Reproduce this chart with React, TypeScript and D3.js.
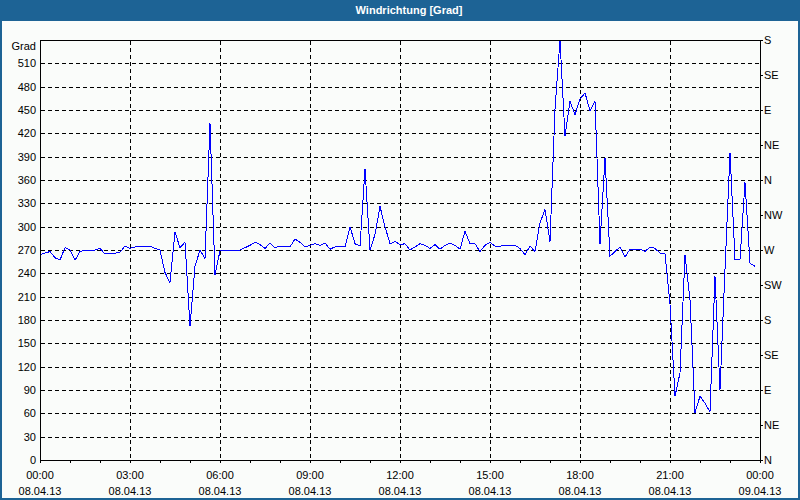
import { useEffect, useRef } from 'react'
import * as d3 from 'd3'

// 10-minute samples, 08.04.13 00:00 .. 23:50
const startTime = new Date(2013, 3, 8, 0, 0)
const endTime = new Date(2013, 3, 9, 0, 0)
const stepMinutes = 10

const windDirection = [
  264, 266, 268, 260, 257, 273, 270, 257, 268, 270, 270, 270,
  272, 265, 266, 266, 267, 275, 272, 274, 274, 274, 275, 272,
  270, 241, 228, 293, 273, 280, 172, 249, 270, 259, 433, 238,
  269, 269, 270, 269, 270, 273, 276, 280, 277, 272, 279, 273,
  275, 275, 274, 284, 280, 274, 276, 278, 276, 279, 271, 274,
  274, 274, 300, 278, 275, 374, 270, 290, 326, 300, 278, 281,
  277, 278, 270, 274, 278, 276, 272, 277, 271, 276, 279, 276,
  271, 294, 278, 278, 268, 276, 280, 275, 275, 276, 276, 276,
  272, 264, 275, 268, 305, 322, 281, 451, 540, 416, 461, 444,
  464, 472, 449, 461, 278, 388, 262, 268, 274, 261, 271, 271,
  271, 268, 274, 272, 266, 265, 200, 82, 112, 264, 206, 61,
  82, 73, 62, 236, 90, 245, 395, 258, 258, 357, 253, 249
]

const gradTicks = [0, 30, 60, 90, 120, 150, 180, 210, 240, 270, 300, 330, 360, 390, 420, 450, 480, 510]
const compassTicks = [0, 45, 90, 135, 180, 225, 270, 315, 360, 405, 450, 495, 540]
const compassLabels = ['N', 'NE', 'E', 'SE', 'S', 'SW', 'W', 'NW', 'N', 'NE', 'E', 'SE', 'S']

export default function App() {
  const svgRef = useRef<SVGSVGElement | null>(null)

  useEffect(() => {
    if (!svgRef.current) return
    const svg = d3.select(svgRef.current)
    svg.selectAll('*').remove()

    const width = 800
    const height = 500
    const left = 40, right = 760, top = 40, bottom = 460
    const font = '"Liberation Sans", Arial, sans-serif'

    const x = d3.scaleTime().domain([startTime, endTime]).range([left, right])
    const y = d3.scaleLinear().domain([0, 540]).range([bottom, top])
    const px = (v: number) => Math.round(v) + 0.5

    // frame + title bar
    svg.append('rect').attr('width', width).attr('height', height).attr('fill', '#1D6395')
    svg.append('rect').attr('x', 2).attr('y', 21).attr('width', width - 4).attr('height', height - 23)
      .attr('fill', '#FAFCFA')
    svg.append('text')
      .attr('x', 409).attr('y', 14)
      .attr('text-anchor', 'middle')
      .style('font-family', font).style('font-size', '11px').style('font-weight', 'bold')
      .attr('fill', '#fff')
      .text('Windrichtung [Grad]')

    const grid = svg.append('g').attr('stroke', '#000').attr('stroke-dasharray', '4,3')
      .attr('shape-rendering', 'crispEdges')

    grid.selectAll('line.h')
      .data(gradTicks.filter(d => d > 0))
      .enter().append('line')
      .attr('x1', left + 1).attr('x2', right)
      .attr('y1', d => px(y(d))).attr('y2', d => px(y(d)))

    const hourTicks = x.ticks(d3.timeHour.every(3)!)
    grid.selectAll('line.v')
      .data(hourTicks.filter(d => +d > +startTime && +d < +endTime))
      .enter().append('line')
      .attr('x1', d => px(x(d))).attr('x2', d => px(x(d)))
      .attr('y1', top + 1).attr('y2', bottom)

    // data line
    const line = d3.line<number>()
      .x((_, i) => x(d3.timeMinute.offset(startTime, i * stepMinutes)))
      .y(d => y(d))
    svg.append('path')
      .datum(windDirection)
      .attr('d', line)
      .attr('fill', 'none')
      .attr('stroke', '#0000FF')
      .attr('stroke-width', 1)
      .attr('shape-rendering', 'crispEdges')

    // plot frame
    svg.append('rect')
      .attr('x', left + 0.5).attr('y', top + 0.5)
      .attr('width', right - left).attr('height', bottom - top)
      .attr('fill', 'none').attr('stroke', '#000').attr('shape-rendering', 'crispEdges')

    // minor hour ticks on the time axis
    svg.append('g').selectAll('line')
      .data(x.ticks(d3.timeHour.every(1)!))
      .enter().append('line')
      .attr('x1', d => px(x(d))).attr('x2', d => px(x(d)))
      .attr('y1', bottom).attr('y2', bottom + 3)
      .attr('stroke', '#000').attr('shape-rendering', 'crispEdges')

    const fmtTime = d3.timeFormat('%H:%M')
    const fmtDate = d3.timeFormat('%d.%m.%y')
    const xl = svg.append('g').style('font-family', font).style('font-size', '11px')
      .attr('fill', '#000').attr('text-anchor', 'middle')
    xl.selectAll('text.t').data(hourTicks).enter().append('text')
      .attr('x', d => x(d)).attr('y', 479).text(d => fmtTime(d))
    xl.selectAll('text.d').data(hourTicks).enter().append('text')
      .attr('x', d => x(d)).attr('y', 495).text(d => fmtDate(d))

    // left axis
    const yl = svg.append('g').style('font-family', font).style('font-size', '11px')
      .attr('fill', '#000').attr('text-anchor', 'end')
    yl.selectAll('text').data(gradTicks).enter().append('text')
      .attr('x', 36).attr('y', d => y(d)).attr('dy', '0.35em').text(d => d)
    yl.append('text').attr('x', 36).attr('y', 50).text('Grad')

    // right axis (compass)
    const yr = svg.append('g')
    yr.selectAll('line').data(compassTicks).enter().append('line')
      .attr('x1', right).attr('x2', right + 3)
      .attr('y1', d => px(y(d))).attr('y2', d => px(y(d)))
      .attr('stroke', '#000').attr('shape-rendering', 'crispEdges')
    yr.selectAll('text').data(compassTicks).enter().append('text')
      .attr('x', right + 4).attr('y', d => y(d)).attr('dy', '0.35em')
      .style('font-family', font).style('font-size', '11px').attr('fill', '#000')
      .text((_, i) => compassLabels[i])
  }, [])

  return (
    <svg ref={svgRef} width={800} height={500}
      style={{ position: 'absolute', left: 0, top: 0, display: 'block' }} />
  )
}
